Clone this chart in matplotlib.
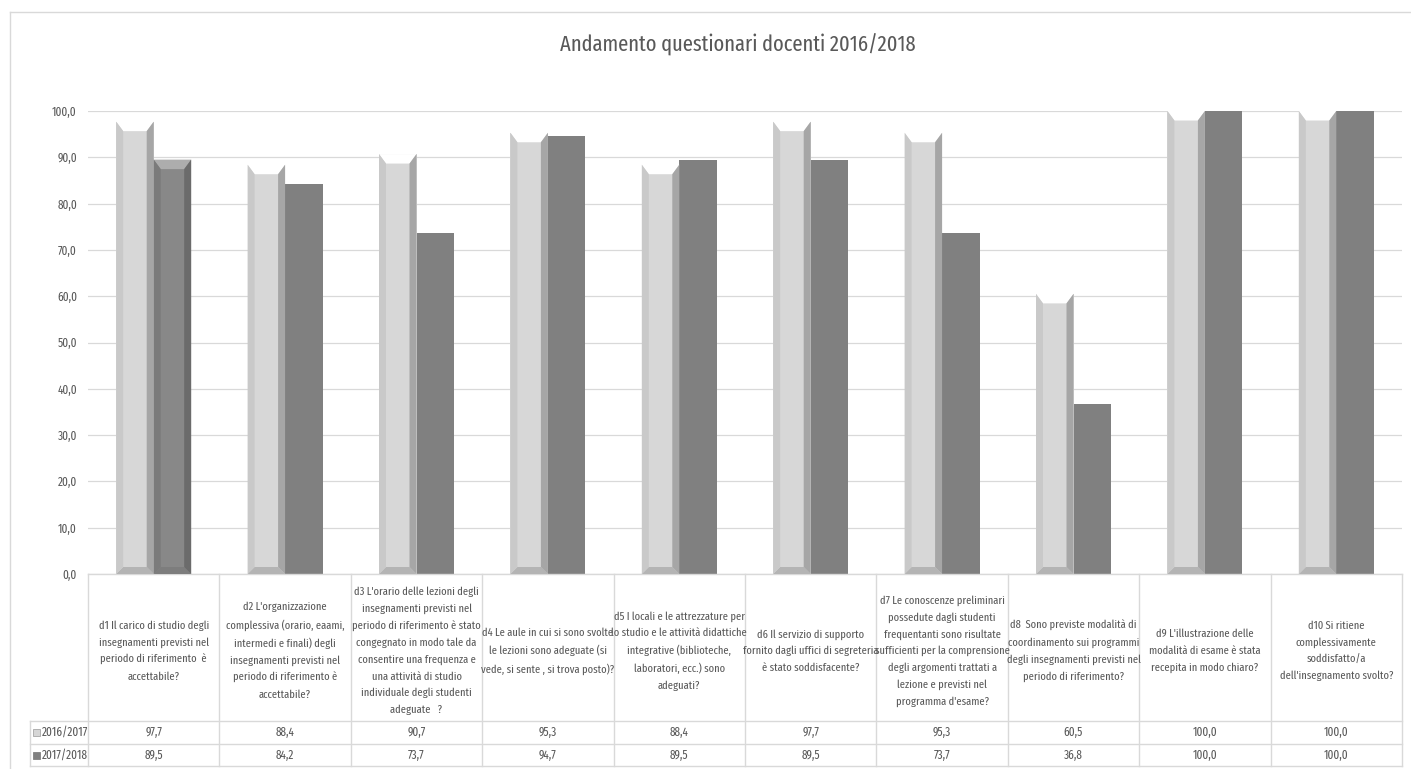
import matplotlib
matplotlib.use("Agg")
import matplotlib.pyplot as plt
from matplotlib import font_manager
from matplotlib.patches import Polygon, Rectangle
from matplotlib.lines import Line2D
import matplotlib.transforms as mtransforms

# ---------------- data ----------------
title = "Andamento questionari docenti 2016/2018"
categories = [
    "d1 Il carico di studio degli\ninsegnamenti previsti nel\nperiodo di riferimento  è\naccettabile?",
    "d2 L'organizzazione\ncomplessiva (orario, eaami,\nintermedi e finali) degli\ninsegnamenti previsti nel\nperiodo di riferimento è\naccettabile?",
    "d3 L'orario delle lezioni degli\ninsegnamenti previsti nel\nperiodo di riferimento è stato\ncongegnato in modo tale da\nconsentire una frequenza e\nuna attività di studio\nindividuale degli studenti\nadeguate   ?",
    "d4 Le aule in cui si sono svolte\nle lezioni sono adeguate (si\nvede, si sente , si trova posto)?",
    "d5 I locali e le attrezzature per\nlo studio e le attività didattiche\nintegrative (biblioteche,\nlaboratori, ecc.) sono\nadeguati?",
    "d6 Il servizio di supporto\nfornito dagli uffici di segreteria\nè stato soddisfacente?",
    "d7 Le conoscenze preliminari\npossedute dagli studenti\nfrequentanti sono risultate\nsufficienti per la comprensione\ndegli argomenti trattati a\nlezione e previsti nel\nprogramma d'esame?",
    "d8  Sono previste modalità di\ncoordinamento sui programmi\ndegli insegnamenti previsti nel\nperiodo di riferimento?",
    "d9 L'illustrazione delle\nmodalità di esame è stata\nrecepita in modo chiaro?",
    "d10 Si ritiene\ncomplessivamente\nsoddisfatto/a\ndell'insegnamento svolto?",
]
series_names = ["2016/2017", "2017/2018"]
values_2016 = [97.7, 88.4, 90.7, 95.3, 88.4, 97.7, 95.3, 60.5, 100.0, 100.0]
values_2017 = [89.5, 84.2, 73.7, 94.7, 89.5, 89.5, 73.7, 36.8, 100.0, 100.0]
y_ticks = [0, 10, 20, 30, 40, 50, 60, 70, 80, 90, 100]

# ---------------- style ----------------
W, H = 1411, 769
TXT = "#595959"
LINE = "#d9d9d9"

names = {f.name for f in font_manager.fontManager.ttflist}
FONT = "Liberation Sans"
for cand in ["Fira Sans Extra Condensed", "Archivo Narrow", "Fira Sans Condensed", "Barlow Semi Condensed"]:
    if cand in names:
        FONT = cand
        break
plt.rcParams["font.family"] = [FONT, "DejaVu Sans"]

fig = plt.figure(figsize=(W / 100, H / 100), dpi=100)
fig.patch.set_facecolor("white")

ax_left, ax_right, ax_top, ax_bot = 88, 1402, 111, 574
ax = fig.add_axes([ax_left / W, (H - ax_bot) / H, (ax_right - ax_left) / W, (ax_bot - ax_top) / H])
ax.set_xlim(-0.5, len(categories) - 0.5)
ax.set_ylim(0, 100)
for s in ax.spines.values():
    s.set_visible(False)
ax.set_yticks(y_ticks)
ax.set_yticklabels([f"{t:.1f}".replace(".", ",") for t in y_ticks])
ax.tick_params(axis="y", length=0, pad=8, labelcolor=TXT, labelsize=8.8)
ax.set_xticks([])
ax.yaxis.grid(True, color=LINE, lw=0.9)
ax.set_axisbelow(True)

px_x = (ax_right - ax_left) / len(categories)   # pixels per category
px_y = (ax_bot - ax_top) / 100.0                 # pixels per unit
bw = 37.5 / px_x
xs = list(range(len(categories)))

bars1 = ax.bar([x - bw / 2 for x in xs], values_2016, width=bw, color="#d7d7d7", zorder=2)
bars2 = ax.bar([x + bw / 2 for x in xs], values_2017, width=bw, color="#808080", zorder=2)

bevel_2017 = [True] + [False] * 9
light_cols = dict(left="#c9c9c9", right="#a6a6a6", top="white", bottom="#b4b4b4")
dark_cols = dict(left="#7b7b7b", right="#6b6b6b", top="#adadad", bottom="#7d7d7d", face="#888888")

dx = 7 / px_x
dv = 9.5 / px_y
db = 7 / px_y


def bevel(patch, cols):
    x0 = patch.get_x()
    x1 = x0 + patch.get_width()
    v = patch.get_height()
    if "face" in cols:
        patch.set_facecolor(cols["face"])
    polys = [
        ([(x0, v), (x1, v), (x1 - dx, v - dv), (x0 + dx, v - dv)], cols["top"]),
        ([(x0, 0), (x1, 0), (x1 - dx, db), (x0 + dx, db)], cols["bottom"]),
        ([(x0, 0), (x0, v), (x0 + dx, v - dv), (x0 + dx, db)], cols["left"]),
        ([(x1, 0), (x1, v), (x1 - dx, v - dv), (x1 - dx, db)], cols["right"]),
    ]
    for pts, c in polys:
        ax.add_patch(Polygon(pts, closed=True, facecolor=c, edgecolor="none", zorder=3))


for p in bars1:
    bevel(p, light_cols)
for p, b in zip(bars2, bevel_2017):
    if b:
        bevel(p, dark_cols)

# ---------------- data table ----------------
tr = mtransforms.blended_transform_factory(ax.transData, ax.transAxes)
ax_h = ax_bot - ax_top
y_head = (ax_bot - 721) / ax_h
y_r1 = (ax_bot - 744) / ax_h
y_r2 = (ax_bot - 766) / ax_h
y_text = (ax_bot - 651) / ax_h
x_leg = -0.5 - 58 / px_x
n = len(categories)

def hline(y, xa, xb):
    ax.add_line(Line2D([xa, xb], [y, y], transform=tr, color=LINE, lw=1.0, clip_on=False))

def vline(x, ya, yb):
    ax.add_line(Line2D([x, x], [ya, yb], transform=tr, color=LINE, lw=1.0, clip_on=False))

hline(0, -0.5, n - 0.5)
for y in (y_head, y_r1, y_r2):
    hline(y, x_leg, n - 0.5)
for k in range(n + 1):
    vline(-0.5 + k, 0, y_r2)
vline(x_leg, y_head, y_r2)

for i, c in enumerate(categories):
    ax.text(i, y_text, c, transform=tr, ha="center", va="center", fontsize=8.2,
            color=TXT, linespacing=1.72, clip_on=False)
for i, (a, b) in enumerate(zip(values_2016, values_2017)):
    ax.text(i, (y_head + y_r1) / 2, f"{a:.1f}".replace(".", ","), transform=tr, ha="center",
            va="center", fontsize=8.8, color=TXT, clip_on=False)
    ax.text(i, (y_r1 + y_r2) / 2, f"{b:.1f}".replace(".", ","), transform=tr, ha="center",
            va="center", fontsize=8.8, color=TXT, clip_on=False)

mk_w = 7 / px_x
mk_h = 7 / ax_h
for (ya, yb), name, col, ec in (((y_head, y_r1), series_names[0], "#d6d6d6", "#a6a6a6"),
                                ((y_r1, y_r2), series_names[1], "#808080", "#808080")):
    yc = (ya + yb) / 2
    ax.add_patch(Rectangle((x_leg + 3 / px_x, yc - mk_h / 2), mk_w, mk_h, transform=tr,
                           facecolor=col, edgecolor=ec, lw=0.6, clip_on=False))
    ax.text(x_leg + 12 / px_x, yc, name, transform=tr, ha="left", va="center",
            fontsize=8.8, color=TXT, clip_on=False)

# ---------------- title & frame ----------------
fig.text(738 / W, 1 - 45 / H, title, ha="center", va="center", fontsize=16, color=TXT)
bx0, bx1, by0 = 10 / W, 1.0, 1 - 12 / H
fig.add_artist(Line2D([bx0, bx1], [by0, by0], transform=fig.transFigure, color=LINE, lw=1))
fig.add_artist(Line2D([bx0, bx0], [0, by0], transform=fig.transFigure, color=LINE, lw=1))

fig.savefig("out.png", dpi=100)
